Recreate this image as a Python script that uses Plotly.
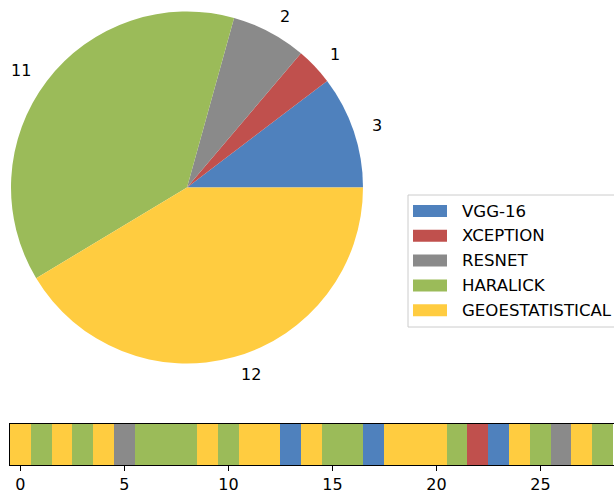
import math
import plotly.graph_objects as go

W, H = 614, 493

categories = ["VGG-16", "XCEPTION", "RESNET", "HARALICK", "GEOESTATISTICAL"]
colors = ["#4f81bd", "#c0504d", "#8a8a8a", "#9bbb59", "#ffcc40"]
pie_values = [3, 1, 2, 11, 12]
# category index of each position in the strip (0..28)
strip_codes = [4, 3, 4, 3, 4, 2, 3, 3, 3, 4, 3, 4, 4, 0, 4, 3, 3, 0, 4, 4,
               4, 3, 1, 0, 4, 3, 2, 4, 3]
strip_ticks = [0, 5, 10, 15, 20, 25]


def px(x):
    return x / W


def py(y):
    return (H - y) / H


FONT = "DejaVu Sans"
FS = 16
fig = go.Figure()

total = sum(pie_values)
first_deg = 360.0 * pie_values[0] / total

# pie
cx, cy, r = 187, 187.5, 176
fig.add_trace(go.Pie(
    values=pie_values, labels=categories, marker=dict(colors=colors, line=dict(width=0)),
    sort=False, direction="counterclockwise", rotation=90 - first_deg, textinfo="none",
    hoverinfo="label+value", showlegend=False,
    domain=dict(x=[px(cx - r), px(cx + r)], y=[py(cy + r), py(cy - r)]),
))

annotations = []
cum = 0
for v in pie_values:
    th = 2 * math.pi * (cum + v / 2) / total
    cum += v
    x = cx + 1.1 * r * math.cos(th)
    y = cy - 1.1 * r * math.sin(th)
    annotations.append(dict(
        x=px(x), y=py(y), xref="paper", yref="paper", text=str(v), showarrow=False,
        xanchor="left" if math.cos(th) > 0 else "right", yanchor="middle",
        font=dict(family=FONT, size=FS, color="black")))

# strip
n = len(strip_codes)
cs = []
for i, c in enumerate(colors):
    cs.append([i / len(colors), c])
    cs.append([(i + 1) / len(colors), c])
fig.add_trace(go.Heatmap(
    z=[strip_codes], x=list(range(n)), y=[0], colorscale=cs, zmin=-0.5,
    zmax=len(colors) - 0.5, showscale=False, hoverinfo="x+z"))

# legend (manual)
shapes = [dict(type="rect", xref="paper", yref="paper", x0=px(408), x1=px(660),
               y0=py(327), y1=py(195), line=dict(color="#cccccc", width=1),
               fillcolor="rgba(255,255,255,0.8)", layer="below")]
for i, (lab, col) in enumerate(zip(categories, colors)):
    yc = 211 + i * 24.8
    shapes.append(dict(type="rect", xref="paper", yref="paper", x0=px(413), x1=px(447),
                       y0=py(yc + 6), y1=py(yc - 6), line=dict(width=0), fillcolor=col))
    annotations.append(dict(x=px(460), y=py(yc), xref="paper", yref="paper", text=lab,
                            showarrow=False, xanchor="left", yanchor="middle",
                            font=dict(family=FONT, size=16.6, color="black")))

fig.update_layout(
    width=W, height=H, margin=dict(l=0, r=0, t=0, b=0, autoexpand=False),
    paper_bgcolor="white", plot_bgcolor="white",
    font=dict(family=FONT, size=FS, color="black"),
    xaxis=dict(domain=[px(10), 1], range=[-0.5, -0.5 + (W - 10) / 20.8],
               tickvals=strip_ticks, ticks="outside", ticklen=5, tickcolor="black",
               showline=True, linecolor="black", linewidth=1, mirror=True,
               showgrid=False, zeroline=False, tickfont=dict(size=FS)),
    yaxis=dict(domain=[py(465), py(424)], range=[-0.5, 0.5], showticklabels=False,
               showline=True, linecolor="black", linewidth=1, ticks="",
               showgrid=False, zeroline=False),
    shapes=shapes, annotations=annotations,
)

fig.write_html("out.html")
